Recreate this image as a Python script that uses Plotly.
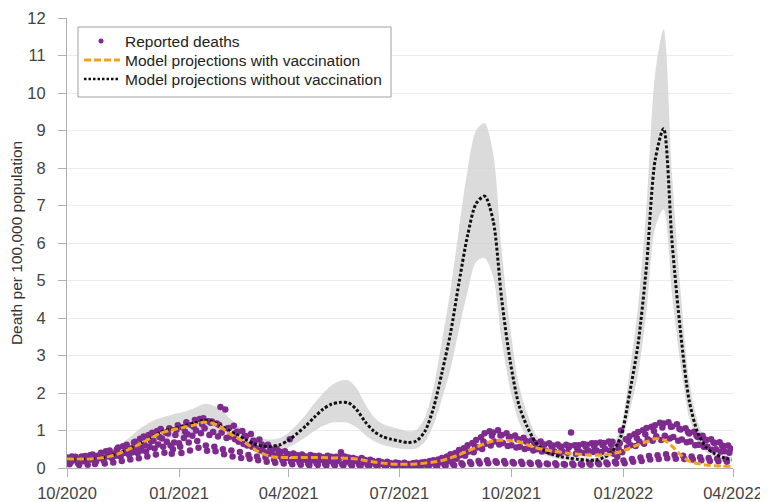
import pandas as pd
import plotly.graph_objects as go

# ---------------- data ----------------
# Daily reported deaths per 100,000 (from 2020-10-01), one row per week
reported_deaths = [
    0.28, 0.16, 0.10, 0.15, 0.31, 0.21, 0.27,
    0.30, 0.22, 0.13, 0.08, 0.25, 0.31, 0.18,
    0.21, 0.32, 0.17, 0.09, 0.28, 0.34, 0.23,
    0.36, 0.23, 0.11, 0.18, 0.33, 0.27, 0.30,
    0.41, 0.26, 0.21, 0.12, 0.45, 0.31, 0.35,
    0.47, 0.31, 0.26, 0.15, 0.39, 0.33, 0.50,
    0.55, 0.37, 0.31, 0.19, 0.58, 0.40, 0.45,
    0.62, 0.44, 0.35, 0.23, 0.53, 0.42, 0.68,
    0.70, 0.55, 0.40, 0.26, 0.78, 0.47, 0.60,
    0.84, 0.61, 0.44, 0.31, 0.88, 0.56, 0.72,
    0.94, 0.73, 0.52, 0.36, 0.99, 0.63, 0.83,
    1.04, 0.79, 0.57, 0.41, 0.95, 0.70, 0.92,
    1.06, 0.60, 0.38, 0.50, 0.68, 0.88, 1.02,
    1.14, 0.66, 0.57, 0.40, 1.08, 0.80, 0.97,
    1.22, 0.90, 0.68, 0.47, 1.15, 0.86, 1.10,
    1.28, 1.00, 0.72, 0.54, 1.31, 0.93, 1.17,
    1.33, 1.06, 0.60, 0.46, 1.25, 0.88, 1.21,
    1.24, 0.96, 0.57, 0.45, 1.19, 0.84, 1.15,
    1.63, 0.95, 0.50, 0.37, 1.56, 0.80, 1.06,
    1.07, 0.84, 0.47, 0.31, 1.13, 0.77, 0.95,
    0.97, 0.70, 0.43, 0.27, 0.99, 0.64, 0.85,
    0.85, 0.60, 0.35, 0.25, 0.91, 0.57, 0.73,
    0.71, 0.53, 0.31, 0.21, 0.76, 0.47, 0.63,
    0.59, 0.43, 0.29, 0.17, 0.62, 0.39, 0.51,
    0.49, 0.37, 0.23, 0.14, 0.52, 0.33, 0.45,
    0.42, 0.29, 0.21, 0.12, 0.45, 0.27, 0.37,
    0.37, 0.77, 0.17, 0.10, 0.39, 0.25, 0.33,
    0.34, 0.23, 0.15, 0.09, 0.36, 0.22, 0.30,
    0.31, 0.22, 0.12, 0.07, 0.35, 0.20, 0.29,
    0.32, 0.20, 0.13, 0.08, 0.33, 0.21, 0.27,
    0.29, 0.21, 0.11, 0.06, 0.33, 0.18, 0.28,
    0.30, 0.19, 0.12, 0.07, 0.30, 0.19, 0.26,
    0.27, 0.42, 0.10, 0.07, 0.31, 0.17, 0.27,
    0.28, 0.18, 0.11, 0.06, 0.27, 0.18, 0.24,
    0.23, 0.17, 0.09, 0.05, 0.27, 0.15, 0.22,
    0.21, 0.14, 0.08, 0.05, 0.22, 0.13, 0.19,
    0.17, 0.13, 0.07, 0.04, 0.19, 0.12, 0.16,
    0.15, 0.10, 0.06, 0.04, 0.17, 0.11, 0.13,
    0.13, 0.10, 0.05, 0.03, 0.15, 0.09, 0.13,
    0.12, 0.08, 0.05, 0.04, 0.14, 0.09, 0.11,
    0.11, 0.09, 0.04, 0.03, 0.13, 0.08, 0.12,
    0.14, 0.10, 0.05, 0.04, 0.15, 0.09, 0.13,
    0.16, 0.11, 0.06, 0.04, 0.19, 0.12, 0.15,
    0.21, 0.14, 0.07, 0.05, 0.23, 0.15, 0.20,
    0.27, 0.19, 0.09, 0.06, 0.31, 0.18, 0.25,
    0.37, 0.26, 0.11, 0.07, 0.40, 0.25, 0.34,
    0.48, 0.34, 0.13, 0.09, 0.53, 0.33, 0.45,
    0.61, 0.44, 0.16, 0.11, 0.67, 0.42, 0.58,
    0.75, 0.55, 0.19, 0.12, 0.82, 0.51, 0.71,
    0.93, 0.65, 0.21, 0.13, 0.98, 0.60, 0.86,
    0.95, 0.71, 0.18, 0.14, 1.01, 0.63, 0.87,
    0.88, 0.67, 0.19, 0.12, 0.93, 0.59, 0.82,
    0.83, 0.61, 0.16, 0.12, 0.87, 0.55, 0.76,
    0.76, 0.57, 0.17, 0.11, 0.81, 0.51, 0.71,
    0.71, 0.54, 0.14, 0.11, 0.74, 0.47, 0.66,
    0.66, 0.50, 0.15, 0.09, 0.71, 0.44, 0.62,
    0.63, 0.46, 0.12, 0.10, 0.66, 0.42, 0.58,
    0.60, 0.45, 0.13, 0.08, 0.63, 0.39, 0.57,
    0.57, 0.44, 0.11, 0.09, 0.62, 0.41, 0.55,
    0.59, 0.95, 0.12, 0.08, 0.61, 0.38, 0.53,
    0.61, 0.44, 0.11, 0.09, 0.64, 0.40, 0.57,
    0.62, 0.47, 0.13, 0.09, 0.66, 0.43, 0.58,
    0.66, 0.47, 0.14, 0.10, 0.68, 0.43, 0.61,
    0.67, 0.51, 0.15, 0.10, 0.71, 0.46, 0.62,
    0.70, 0.38, 0.17, 0.12, 0.30, 0.52, 0.66,
    1.00, 0.42, 0.20, 0.13, 0.77, 0.55, 0.72,
    0.85, 0.61, 0.24, 0.17, 0.90, 0.59, 0.80,
    0.96, 0.71, 0.28, 0.19, 1.01, 0.65, 0.90,
    1.07, 0.77, 0.32, 0.23, 1.10, 0.73, 0.99,
    1.14, 0.85, 0.34, 0.24, 1.21, 0.75, 1.08,
    1.19, 0.86, 0.37, 0.26, 1.22, 0.79, 1.10,
    1.11, 0.83, 0.35, 0.25, 1.17, 0.73, 1.05,
    1.03, 0.76, 0.33, 0.24, 1.06, 0.69, 0.96,
    0.92, 0.71, 0.31, 0.23, 0.97, 0.61, 0.86,
    0.83, 0.62, 0.29, 0.21, 0.86, 0.57, 0.76,
    0.74, 0.57, 0.27, 0.19, 0.77, 0.49, 0.68,
    0.67, 0.50, 0.25, 0.18, 0.69, 0.44, 0.60,
    0.59, 0.45, 0.23, 0.17, 0.60, 0.41, 0.52,
]

# Weekly model projections (from 2020-10-01, every 7 days)
with_vaccination = [
    0.25, 0.24, 0.24, 0.25, 0.27, 0.31, 0.38, 0.47, 0.58, 0.70,
    0.82, 0.93, 1.00, 1.05, 1.10, 1.15, 1.22, 1.20, 1.10, 0.93,
    0.80, 0.66, 0.50, 0.38, 0.30, 0.28, 0.28, 0.28, 0.28, 0.28,
    0.28, 0.27, 0.27, 0.26, 0.24, 0.20, 0.16, 0.13, 0.11, 0.10,
    0.10, 0.11, 0.13, 0.16, 0.20, 0.27, 0.35, 0.45, 0.55, 0.65,
    0.72, 0.74, 0.73, 0.70, 0.62, 0.54, 0.49, 0.45, 0.42, 0.39,
    0.37, 0.35, 0.34, 0.35, 0.38, 0.44, 0.53, 0.62, 0.70, 0.78,
    0.75, 0.58, 0.35, 0.18, 0.12, 0.08, 0.06, 0.05, 0.05,
]
without_vaccination = [
    0.25, 0.24, 0.24, 0.25, 0.28, 0.32, 0.39, 0.48, 0.59, 0.71,
    0.84, 0.95, 1.03, 1.08, 1.14, 1.20, 1.27, 1.24, 1.13, 1.00,
    0.88, 0.75, 0.64, 0.58, 0.58, 0.62, 0.74, 0.92, 1.12, 1.35,
    1.56, 1.70, 1.75, 1.74, 1.55, 1.23, 0.98, 0.84, 0.77, 0.72,
    0.68, 0.72, 0.98, 1.60, 2.55, 3.60, 4.95, 6.20, 7.05, 7.25,
    6.60, 4.50, 2.85, 1.70, 1.10, 0.68, 0.46, 0.36, 0.30, 0.26,
    0.23, 0.21, 0.21, 0.28, 0.45, 0.85, 1.98, 3.30, 5.40, 8.20,
    9.05, 6.00, 3.60, 1.80, 0.95, 0.55, 0.38, 0.28, 0.22,
]
without_vaccination_low = [
    0.21, 0.20, 0.20, 0.21, 0.23, 0.26, 0.31, 0.38, 0.46, 0.55,
    0.64, 0.72, 0.78, 0.82, 0.86, 0.90, 0.95, 0.95, 0.88, 0.77,
    0.66, 0.56, 0.48, 0.44, 0.44, 0.47, 0.55, 0.68, 0.82, 0.98,
    1.12, 1.21, 1.22, 1.20, 1.08, 0.88, 0.72, 0.62, 0.56, 0.52,
    0.50, 0.52, 0.70, 1.15, 1.85, 2.65, 3.70, 4.70, 5.50, 5.60,
    5.10, 3.40, 2.10, 1.25, 0.82, 0.50, 0.35, 0.28, 0.23, 0.20,
    0.18, 0.16, 0.16, 0.21, 0.34, 0.63, 1.50, 2.50, 4.20, 6.40,
    6.90, 4.60, 2.75, 1.35, 0.72, 0.42, 0.30, 0.22, 0.17,
]
without_vaccination_high = [
    0.30, 0.29, 0.29, 0.31, 0.35, 0.45, 0.58, 0.75, 0.95, 1.12,
    1.25, 1.34, 1.40, 1.46, 1.52, 1.60, 1.70, 1.68, 1.56, 1.35,
    1.15, 0.98, 0.85, 0.78, 0.76, 0.80, 0.94, 1.16, 1.42, 1.72,
    1.98, 2.20, 2.32, 2.34, 2.12, 1.70, 1.36, 1.18, 1.10, 1.04,
    0.98, 1.02, 1.35, 2.15, 3.40, 4.75, 6.40, 7.95, 9.00, 9.20,
    8.40, 5.80, 3.75, 2.25, 1.45, 0.90, 0.62, 0.48, 0.40, 0.35,
    0.31, 0.28, 0.28, 0.37, 0.60, 1.10, 2.55, 4.30, 7.00, 10.50,
    11.70, 7.80, 4.70, 2.35, 1.25, 0.72, 0.50, 0.37, 0.29,
]

tick_dates = ["2020-10-01", "2021-01-01", "2021-04-01", "2021-07-01",
              "2021-10-01", "2022-01-01", "2022-04-01"]
tick_labels = ["10/2020", "01/2021", "04/2021", "07/2021",
               "10/2021", "01/2022", "04/2022"]
legend_labels = ["Reported deaths",
                 "Model projections with vaccination",
                 "Model projections without vaccination"]

report_dates = pd.date_range("2020-10-01", periods=len(reported_deaths), freq="D")
model_dates = pd.date_range("2020-10-01", periods=len(with_vaccination), freq="7D")

# ---------------- figure ----------------
PURPLE = "#7e2a8e"
ORANGE = "#f4a21e"
BLACK = "#111111"
FONT = "Liberation Sans, Arial, sans-serif"

# page offset of 8px (default body margin) -> figure is 760x494
W, H = 760, 494
ML, MR, MT, MB = 59, 35, 10, 34
PW, PH = W - ML - MR, H - MT - MB


def px(xp):  # page pixel x -> paper
    return (xp - 8 - ML) / PW


def py(yp):  # page pixel y -> paper
    return (H - MB - (yp - 8)) / PH


fig = go.Figure()
fig.add_trace(go.Scatter(
    x=model_dates, y=without_vaccination_low, mode="lines",
    line=dict(width=0, shape="spline", smoothing=0.8),
    showlegend=False, hoverinfo="skip"))
fig.add_trace(go.Scatter(
    x=model_dates, y=without_vaccination_high, mode="lines",
    line=dict(width=0, shape="spline", smoothing=0.8),
    fill="tonexty", fillcolor="rgba(205,205,205,0.72)",
    showlegend=False, hoverinfo="skip"))
fig.add_trace(go.Scatter(
    x=report_dates, y=reported_deaths, mode="markers",
    marker=dict(color=PURPLE, size=6.5),
    name=legend_labels[0], showlegend=False))
fig.add_trace(go.Scatter(
    x=model_dates, y=without_vaccination, mode="lines",
    line=dict(color=BLACK, width=3, dash="3px,2px", shape="spline", smoothing=0.8),
    name=legend_labels[2], showlegend=False))
fig.add_trace(go.Scatter(
    x=model_dates, y=with_vaccination, mode="lines",
    line=dict(color=ORANGE, width=3, dash="7px,3px", shape="spline", smoothing=0.8),
    name=legend_labels[1], showlegend=False))

# ---- hand-built legend box (compact rows like the reference) ----
row_y = [41, 60, 79]
shapes = [dict(type="rect", xref="paper", yref="paper", layer="above",
               x0=px(78), x1=px(391), y0=py(97), y1=py(27),
               fillcolor="white", line=dict(color="#a0a0a0", width=1))]
shapes.append(dict(type="circle", xref="paper", yref="paper", layer="above",
                   xsizemode="pixel", ysizemode="pixel",
                   xanchor=px(101), yanchor=py(row_y[0]),
                   x0=-2.5, x1=2.5, y0=-2.5, y1=2.5,
                   fillcolor=PURPLE, line=dict(width=0)))
shapes.append(dict(type="line", xref="paper", yref="paper", layer="above",
                   x0=px(84), x1=px(120), y0=py(row_y[1]), y1=py(row_y[1]),
                   line=dict(color=ORANGE, width=3, dash="7px,3px")))
shapes.append(dict(type="line", xref="paper", yref="paper", layer="above",
                   x0=px(84), x1=px(120), y0=py(row_y[2]), y1=py(row_y[2]),
                   line=dict(color=BLACK, width=2.5, dash="2.5px,2px")))
annotations = [dict(xref="paper", yref="paper", x=px(123), y=py(yy),
                    xanchor="left", yanchor="middle", showarrow=False,
                    text=lab, font=dict(size=15.5, color="#222222"))
               for lab, yy in zip(legend_labels, row_y)]

fig.update_layout(
    width=W, height=H,
    margin=dict(l=ML, r=MR, t=MT, b=MB),
    paper_bgcolor="white", plot_bgcolor="white",
    font=dict(family=FONT, color="#333333"),
    showlegend=False,
    shapes=shapes, annotations=annotations,
    xaxis=dict(
        type="date", range=["2020-10-01", "2022-04-01"],
        tickvals=tick_dates, ticktext=tick_labels,
        showgrid=False, zeroline=False, automargin=False,
        showline=True, linecolor="#b0b0b0", linewidth=1,
        ticks="outside", ticklen=8, tickcolor="#b0b0b0",
        tickfont=dict(size=16.5, color="#444444"),
        ticklabelstandoff=2, ticklabeloverflow="allow",
    ),
    yaxis=dict(
        range=[0, 12], dtick=1, tick0=0,
        showgrid=True, gridcolor="#ececec", gridwidth=1,
        zeroline=False, automargin=False,
        showline=True, linecolor="#b0b0b0", linewidth=1,
        ticks="outside", ticklen=8, tickcolor="#b0b0b0",
        tickfont=dict(size=16.5, color="#444444"),
        ticklabelstandoff=9, ticklabeloverflow="allow",
        title=dict(text="Death per 100,000 population",
                   font=dict(size=15.5, color="#333333"), standoff=0),
    ),
)

fig.write_html("out.html")
